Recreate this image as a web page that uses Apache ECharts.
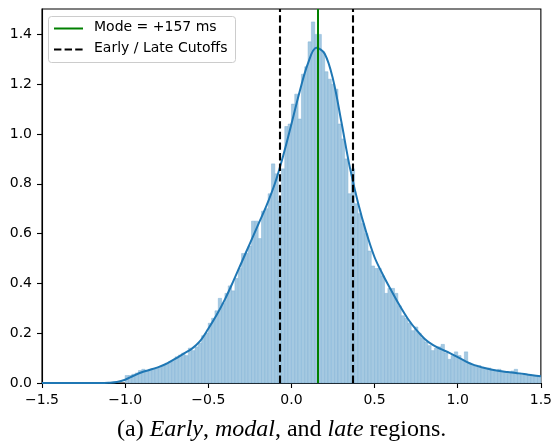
<!DOCTYPE html>
<html>
<head>
<meta charset="utf-8">
<script src="https://cdn.jsdelivr.net/npm/echarts@6/dist/echarts.min.js"></script>
<style>
html,body{margin:0;padding:0;background:#fff;}
#chart{width:555px;height:446px;}
</style>
</head>
<body>
<div id="chart"></div>
<script>
// ---- data ----
const binStart = -1.0;
const binWidth = 0.02;
const histValues = [
  0.030,0.030,0.035,0.040,0.050,0.055,0.050,0.055,0.058,0.062,
  0.066,0.070,0.080,0.085,0.090,0.105,0.112,0.120,0.110,0.140,
  0.130,0.145,0.160,0.190,0.200,0.240,0.260,0.290,0.340,0.320,
  0.360,0.390,0.370,0.420,0.460,0.520,0.520,0.550,0.650,0.650,
  0.580,0.690,0.700,0.760,0.880,0.840,0.730,0.860,1.030,1.040,
  1.120,1.160,1.060,1.240,1.270,1.370,1.450,1.400,1.400,1.330,
  1.250,1.220,1.200,1.180,1.040,0.980,0.900,0.760,0.860,0.720,
  0.680,0.640,0.600,0.530,0.470,0.460,0.460,0.430,0.360,0.380,
  0.380,0.360,0.310,0.270,0.260,0.240,0.210,0.225,0.200,0.180,
  0.165,0.150,0.130,0.140,0.145,0.155,0.120,0.095,0.110,0.125,
  0.110,0.090,0.125,0.080,0.070,0.072,0.070,0.060,0.058,0.060,
  0.052,0.050,0.055,0.045,0.044,0.042,0.048,0.055,0.040,0.038,
  0.035,0.030,0.030,0.028,0.025
];
const kdeX = [
  -1.50,-1.45,-1.40,-1.35,-1.30,-1.25,-1.20,-1.15,-1.10,-1.05,
  -1.00,-0.95,-0.90,-0.85,-0.80,-0.75,-0.70,-0.65,-0.60,-0.55,
  -0.50,-0.45,-0.40,-0.35,-0.30,-0.25,-0.20,-0.15,-0.10,-0.05,
   0.00, 0.05, 0.10, 0.15, 0.20, 0.25, 0.30, 0.35, 0.40, 0.45,
   0.50, 0.55, 0.60, 0.65, 0.70, 0.75, 0.80, 0.85, 0.90, 0.95,
   1.00, 1.05, 1.10, 1.15, 1.20, 1.25, 1.30, 1.35, 1.40, 1.45, 1.50
];
const kdeY = [
  0.000,0.000,0.000,0.000,0.000,0.000,0.000,0.000,0.001,0.004,
  0.013,0.029,0.043,0.053,0.064,0.078,0.097,0.117,0.137,0.168,
  0.218,0.273,0.336,0.408,0.484,0.560,0.636,0.712,0.800,0.912,
  1.040,1.172,1.285,1.346,1.322,1.220,1.050,0.870,0.725,0.605,
  0.505,0.435,0.372,0.312,0.258,0.214,0.178,0.153,0.136,0.121,
  0.104,0.086,0.072,0.062,0.054,0.048,0.044,0.040,0.036,0.031,0.027
];
const modeX = 0.157;
const cutoffs = [-0.07, 0.37];
const xTicks = [-1.5, -1.0, -0.5, 0.0, 0.5, 1.0, 1.5];
const yTicks = [0.0, 0.2, 0.4, 0.6, 0.8, 1.0, 1.2, 1.4];
const legendLabels = ['Mode = +157 ms', 'Early / Late Cutoffs'];
const caption = ['(a) ', 'Early', ', ', 'modal', ', and ', 'late', ' regions.'];

// ---- build ----
const histData = histValues.map((v, i) => [binStart + i * binWidth, binStart + (i + 1) * binWidth, v]);
const kdeData = kdeX.map((x, i) => [x, kdeY[i]]);
const FONT = 'DejaVu Sans';
const fmtX = v => (v < 0 ? '\u2212' : '') + Math.abs(v).toFixed(1);

const chart = echarts.init(document.getElementById('chart'), null, {renderer: 'canvas'});
const option = {
  animation: false,
  backgroundColor: '#fff',
  grid: {left: 42, right: 12, top: 9, bottom: 63, show: true, borderColor: '#000', borderWidth: 1.1, backgroundColor: 'transparent'},
  xAxis: {
    type: 'value', min: -1.5, max: 1.5, interval: 0.5,
    splitLine: {show: false},
    axisLine: {show: true, onZero: false, lineStyle: {color: '#000', width: 1.1}},
    axisTick: {show: true, length: 5, lineStyle: {color: '#000', width: 1.1}, customValues: xTicks},
    axisLabel: {margin: 10, fontFamily: FONT, fontSize: 14, color: '#000', formatter: fmtX, customValues: xTicks}
  },
  yAxis: {
    type: 'value', min: 0, max: 1.502,
    splitLine: {show: false},
    axisLine: {show: true, onZero: false, lineStyle: {color: '#000', width: 1.1}},
    axisTick: {show: true, length: 5, lineStyle: {color: '#000', width: 1.1}, customValues: yTicks},
    axisLabel: {margin: 10, fontFamily: FONT, fontSize: 14, color: '#000', formatter: v => v.toFixed(1), customValues: yTicks}
  },
  series: [
    {
      type: 'custom',
      data: histData,
      encode: {x: [0, 1], y: 2},
      z: 1,
      renderItem: function (params, api) {
        const p0 = api.coord([api.value(0), api.value(2)]);
        const p1 = api.coord([api.value(1), 0]);
        return {
          type: 'rect',
          shape: {x: p0[0], y: p0[1], width: p1[0] - p0[0], height: p1[1] - p0[1]},
          style: {fill: '#a5c9e1', stroke: '#80b2d6', lineWidth: 0.5}
        };
      }
    },
    {
      type: 'line',
      data: kdeData,
      showSymbol: false,
      smooth: 0.35,
      z: 3,
      lineStyle: {color: '#1f77b4', width: 2},
      markLine: {
        silent: true,
        symbol: 'none',
        label: {show: false},
        z: 5,
        data: [
          {xAxis: cutoffs[0], lineStyle: {color: '#000', width: 2.1, type: [7.4, 3.2]}},
          {xAxis: cutoffs[1], lineStyle: {color: '#000', width: 2.1, type: [7.4, 3.2]}},
          {xAxis: modeX, lineStyle: {color: '#008000', width: 2, type: 'solid'}}
        ]
      }
    }
  ],
  graphic: [
    {type: 'rect', left: 48, top: 16, z: 100,
     shape: {width: 187, height: 46, r: 3},
     style: {fill: 'rgba(255,255,255,0.8)', stroke: '#cccccc', lineWidth: 1}},
    {type: 'line', z: 101, shape: {x1: 54, y1: 28.5, x2: 83, y2: 28.5}, style: {stroke: '#008000', lineWidth: 2}},
    {type: 'text', z: 101, left: 94, top: 20, style: {text: legendLabels[0], font: '14px "DejaVu Sans"', fill: '#000'}},
    {type: 'line', z: 101, shape: {x1: 54, y1: 49.5, x2: 83, y2: 49.5}, style: {stroke: '#000', lineWidth: 2.1, lineDash: [7.4, 3.2]}},
    {type: 'text', z: 101, left: 94, top: 41, style: {text: legendLabels[1], font: '14px "DejaVu Sans"', fill: '#000'}},
    {type: 'text', z: 101, left: 117, top: 418,
     style: {
       text: caption.map((s, i) => (i % 2 === 1 ? '{i|' + s + '}' : '{n|' + s + '}')).join(''),
       rich: {
         n: {fontFamily: 'Liberation Serif', fontSize: 24, fill: '#000'},
         i: {fontFamily: 'Liberation Serif', fontSize: 24, fontStyle: 'italic', fill: '#000'}
       }
     }}
  ]
};
chart.setOption(option);
</script>
</body>
</html>
